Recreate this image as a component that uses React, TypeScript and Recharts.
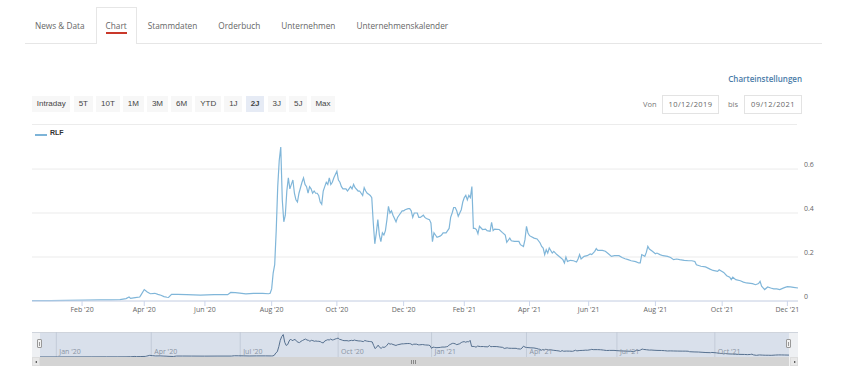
import React from 'react'
import { LineChart, Line, XAxis, YAxis, CartesianGrid, ReferenceLine } from 'recharts'

// trading-day index (ordinal axis, 10/12/2019 .. 09/12/2021) and close price
const tradingDay = [
  0, 12, 23, 35, 45, 52, 58, 61, 62, 64, 65, 68, 71, 72, 74, 76, 78, 81, 83, 85, 87, 89, 90, 92, 96, 102, 111, 120, 129, 131,
  134, 137, 141, 146, 152, 156, 157, 158, 159, 160, 161, 162, 163, 164, 165, 166, 167, 168, 169, 170, 171, 172, 173, 174, 175,
  176, 177, 178, 179, 180, 181, 182, 183, 184, 185, 186, 187, 188, 189, 190, 191, 192, 193, 194, 195, 196, 197, 198, 199, 200,
  201, 202, 203, 204, 205, 207, 208, 209, 210, 211, 212, 213, 215, 216, 217, 218, 219, 220, 221, 222, 223, 224, 225, 226, 227,
  228, 229, 230, 231, 232, 233, 234, 235, 236, 237, 238, 240, 241, 242, 244, 245, 246, 248, 249, 250, 251, 252, 254, 255, 256,
  258, 259, 260, 262, 263, 264, 265, 266, 267, 269, 270, 271, 273, 274, 275, 276, 277, 278, 279, 280, 281, 283, 284, 285, 286,
  287, 288, 289, 290, 291, 292, 293, 294, 295, 297, 299, 300, 302, 303, 304, 305, 308, 310, 312, 313, 315, 316, 318, 321, 322,
  324, 325, 326, 327, 328, 331, 333, 335, 336, 337, 338, 339, 340, 341, 343, 344, 346, 348, 350, 351, 352, 353, 355, 357, 359,
  360, 361, 362, 364, 366, 368, 369, 371, 372, 373, 376, 378, 380, 382, 384, 387, 389, 391, 393, 395, 398, 400, 401, 402, 404,
  405, 406, 407, 409, 411, 412, 414, 416, 419, 421, 423, 425, 427, 430, 433, 435, 437, 438, 441, 444, 447, 449, 452, 453, 456,
  458, 460, 461, 462, 464, 467, 469, 471, 475, 477, 479, 480, 481, 483, 485, 487, 489, 491, 493, 496, 498, 500, 502, 505,
]
const price = [
  0.002, 0.002, 0.003, 0.004, 0.005, 0.005, 0.006, 0.010, 0.011, 0.018, 0.012, 0.015, 0.018, 0.029, 0.052, 0.041, 0.033, 0.035, 0.030, 0.026, 0.020, 0.017, 0.016, 0.030, 0.030, 0.029, 0.027, 0.029, 0.029, 0.039,
  0.038, 0.036, 0.032, 0.035, 0.035, 0.033, 0.035, 0.055, 0.127, 0.165, 0.32, 0.52, 0.64, 0.70, 0.46, 0.36, 0.39, 0.50, 0.56, 0.51, 0.53, 0.55, 0.49, 0.46, 0.45,
  0.49, 0.515, 0.54, 0.56, 0.53, 0.52, 0.49, 0.52, 0.51, 0.49, 0.50, 0.49, 0.49, 0.48, 0.45, 0.44, 0.50, 0.52, 0.54, 0.53, 0.56, 0.53, 0.54, 0.56, 0.575,
  0.59, 0.55, 0.54, 0.52, 0.51, 0.51, 0.50, 0.51, 0.52, 0.51, 0.53, 0.515, 0.50, 0.50, 0.49, 0.48, 0.515, 0.50, 0.49, 0.485, 0.48, 0.47, 0.355, 0.26, 0.31,
  0.37, 0.30, 0.27, 0.31, 0.30, 0.32, 0.37, 0.43, 0.40, 0.41, 0.39, 0.36, 0.38, 0.39, 0.41, 0.41, 0.415, 0.42, 0.42, 0.41, 0.38, 0.40, 0.40, 0.38, 0.38,
  0.39, 0.38, 0.375, 0.37, 0.355, 0.27, 0.31, 0.30, 0.29, 0.295, 0.30, 0.31, 0.31, 0.32, 0.33, 0.38, 0.40, 0.425, 0.425, 0.41, 0.385, 0.415, 0.45, 0.47, 0.48,
  0.46, 0.48, 0.47, 0.52, 0.33, 0.33, 0.325, 0.306, 0.34, 0.325, 0.327, 0.32, 0.317, 0.358, 0.32, 0.327, 0.325, 0.312, 0.30, 0.267, 0.286, 0.274, 0.271, 0.271, 0.256,
  0.248, 0.279, 0.339, 0.309, 0.297, 0.286, 0.282, 0.264, 0.248, 0.241, 0.211, 0.233, 0.218, 0.241, 0.218, 0.226, 0.211, 0.20, 0.188, 0.173, 0.20, 0.18, 0.185, 0.183, 0.177,
  0.191, 0.211, 0.191, 0.203, 0.206, 0.214, 0.211, 0.226, 0.238, 0.23, 0.23, 0.226, 0.215, 0.203, 0.206, 0.206, 0.198, 0.192, 0.188, 0.183, 0.179, 0.173, 0.173, 0.211, 0.203,
  0.221, 0.248, 0.236, 0.226, 0.215, 0.218, 0.211, 0.206, 0.203, 0.198, 0.188, 0.191, 0.188, 0.185, 0.183, 0.183, 0.18, 0.165, 0.158, 0.155, 0.145, 0.139, 0.135, 0.142, 0.13,
  0.115, 0.108, 0.097, 0.108, 0.097, 0.092, 0.086, 0.082, 0.079, 0.074, 0.079, 0.089, 0.067, 0.052, 0.064, 0.059, 0.055, 0.055, 0.052, 0.061, 0.065, 0.064, 0.062, 0.059,
]

const tickDays = [33, 74, 114, 158, 201, 245, 285, 328, 367, 411, 455, 498]
const tickLabels = ["Feb '20", "Apr '20", "Jun '20", "Aug '20", "Oct '20", "Dec '20", "Feb '21", "Apr '21", "Jun '21", "Aug '21", "Oct '21", "Dec '21"]
const navDays = [11, 75, 135, 201, 264, 328, 389, 455]
const navLabels = ["Jan '20", "Apr '20", "Jul '20", "Oct '20", "Jan '21", "Apr '21", "Jul '21", "Oct '21"]
const yTicks = [0, 0.2, 0.4, 0.6]

const tabs = ['News & Data', 'Chart', 'Stammdaten', 'Orderbuch', 'Unternehmen', 'Unternehmenskalender']
const ranges = ['Intraday', '5T', '10T', '1M', '3M', '6M', 'YTD', '1J', '2J', '3J', '5J', 'Max']

const data = tradingDay.map((d, i) => ({ day: d, price: price[i] }))
const font = '"Open Sans", sans-serif'

const YTick = ({ x, y, payload }: any) => (
  <text x={x} y={y - 4} dy="0.35em" fontSize={7} fill="#666" fontFamily={font}>{payload.value}</text>
)

const Handle = ({ left }: { left: number }) => (
  <div style={{ position: 'absolute', left, top: 339, width: 5, height: 9, background: '#f2f2f2', border: '1px solid #999', borderRadius: 1, boxSizing: 'border-box' }}>
    <div style={{ position: 'absolute', left: 1, top: 2, width: 1, height: 4, background: '#999' }} />
    <div style={{ position: 'absolute', left: 2.5, top: 2, width: 1, height: 4, background: '#999' }} />
  </div>
)

export default function App() {
  return (
    <div style={{ position: 'relative', width: 860, height: 382, background: '#fff', overflow: 'hidden', fontFamily: font }}>
      <style>{'body{margin:0}'}</style>

      {/* tabs */}
      <div style={{ position: 'absolute', left: 25, top: 43, width: 797, height: 1, background: '#e6e6e6' }} />
      <div style={{ position: 'absolute', left: 96, top: 7, width: 41, height: 37, background: '#fff', border: '1px solid #e6e6e6', borderBottom: 'none', boxSizing: 'border-box' }} />
      <div style={{ position: 'absolute', left: 35, top: 19, display: 'flex', gap: 21, fontSize: 8.25, color: '#666', lineHeight: '14px' }}>
        {tabs.map(t => (
          <span key={t} style={{ position: 'relative' }}>
            {t}
            {t === 'Chart' && <span style={{ position: 'absolute', left: 0, right: 0, top: 13, height: 2, background: '#c9382a' }} />}
          </span>
        ))}
      </div>

      {/* settings */}
      <div style={{ position: 'absolute', right: 58, top: 73, fontSize: 8, fontWeight: 600, color: '#4a7ba8' }}>Charteinstellungen</div>
      <div style={{ position: 'absolute', left: 0, top: 95, width: 860, height: 19 }}>
        <span style={{ position: 'absolute', left: 643, top: 4, fontSize: 7.5, color: '#777' }}>Von</span>
        <div style={{ position: 'absolute', left: 662, top: 0, width: 57, height: 19, border: '1px solid #e3e3e3', boxSizing: 'border-box', fontSize: 7.5, color: '#666', textAlign: 'center', lineHeight: '17px', letterSpacing: 0.4 }}>10/12/2019</div>
        <span style={{ position: 'absolute', left: 728, top: 4, fontSize: 7.5, color: '#777' }}>bis</span>
        <div style={{ position: 'absolute', left: 744, top: 0, width: 58, height: 19, border: '1px solid #e3e3e3', boxSizing: 'border-box', fontSize: 7.5, color: '#666', textAlign: 'center', lineHeight: '17px', letterSpacing: 0.4 }}>09/12/2021</div>
      </div>

      {/* range selector */}
      <div style={{ position: 'absolute', left: 32, top: 96, display: 'flex', gap: 3.5, fontFamily: '"Liberation Sans", Arial, sans-serif', fontSize: 8, color: '#444' }}>
        {ranges.map(r => (
          <div key={r} style={{ height: 16, lineHeight: '16px', padding: '0 4.75px', background: r === '2J' ? '#e6ebf5' : '#f7f7f7', fontWeight: r === '2J' ? 700 : 400 }}>{r}</div>
        ))}
      </div>
      <div style={{ position: 'absolute', left: 32, top: 124, width: 765, height: 1, background: '#ececec' }} />

      {/* legend */}
      <div style={{ position: 'absolute', left: 35, top: 134, width: 12, height: 1.5, background: '#7db4d8' }} />
      <div style={{ position: 'absolute', left: 50, top: 129, fontFamily: '"Liberation Sans", Arial, sans-serif', fontSize: 7, fontWeight: 700, color: '#333' }}>RLF</div>

      {/* main chart */}
      <div style={{ position: 'absolute', left: 0, top: 130 }}>
        <LineChart width={860} height={195} data={data} margin={{ top: 10, right: 0, bottom: 0, left: 32 }}>
          <CartesianGrid vertical={false} horizontalValues={yTicks} stroke="#ebebeb" />
          <XAxis
            type="number"
            dataKey="day"
            domain={[0, 505]}
            ticks={tickDays}
            interval={0}
            tickFormatter={(v: number) => tickLabels[tickDays.indexOf(v)]}
            height={24}
            tickSize={5}
            tickMargin={1}
            axisLine={{ stroke: '#ccd6eb' }}
            tickLine={{ stroke: '#ccd6eb' }}
            tick={{ fontSize: 7, fill: '#666', fontFamily: font }}
          />
          <YAxis
            orientation="right"
            width={62}
            domain={[0, 0.732]}
            ticks={yTicks}
            interval={0}
            axisLine={false}
            tickLine={false}
            tickSize={0}
            tickMargin={6}
            tick={<YTick />}
          />
          <Line type="linear" dataKey="price" stroke="#80b6d9" strokeWidth={1.2} dot={false} isAnimationActive={false} />
        </LineChart>
      </div>

      {/* navigator */}
      <div style={{ position: 'absolute', left: 32, top: 332, width: 766, height: 25, background: '#eef0f3', borderTop: '1px solid #cfd4dc', boxSizing: 'border-box' }} />
      <div style={{ position: 'absolute', left: 40, top: 333, width: 749, height: 24, background: '#d9e0eb' }} />
      <div style={{ position: 'absolute', left: 40, top: 332 }}>
        <LineChart width={749} height={25} data={data} margin={{ top: 0, right: 0, bottom: 0, left: 0 }}>
          <XAxis hide type="number" dataKey="day" domain={[0, 505]} />
          <YAxis hide domain={[0, 0.78]} />
          {navDays.map((d, i) => (
            <ReferenceLine
              key={d}
              x={d}
              stroke="#c3cbd8"
              label={{ value: navLabels[i], position: 'insideBottomLeft', offset: 3, fontSize: 7, fill: '#8a94a3', fontFamily: font }}
            />
          ))}
          <Line type="linear" dataKey="price" stroke="#56708f" strokeWidth={1} dot={false} isAnimationActive={false} />
        </LineChart>
      </div>
      <Handle left={37} />
      <Handle left={786} />

      {/* scrollbar */}
      <div style={{ position: 'absolute', left: 32, top: 357, width: 766, height: 9, background: '#f2f2f2' }} />
      <div style={{ position: 'absolute', left: 40, top: 357, width: 749, height: 9, background: '#d4d4d4' }} />
      <div style={{ position: 'absolute', left: 32, top: 357, width: 8, height: 9, background: '#e8e8e8', border: '1px solid #ddd', boxSizing: 'border-box' }}>
        <div style={{ position: 'absolute', left: 2, top: 2.5, width: 0, height: 0, borderTop: '1.5px solid transparent', borderBottom: '1.5px solid transparent', borderRight: '2px solid #333' }} />
      </div>
      <div style={{ position: 'absolute', left: 790, top: 357, width: 8, height: 9, background: '#e8e8e8', border: '1px solid #ddd', boxSizing: 'border-box' }}>
        <div style={{ position: 'absolute', left: 3, top: 2.5, width: 0, height: 0, borderTop: '1.5px solid transparent', borderBottom: '1.5px solid transparent', borderLeft: '2px solid #333' }} />
      </div>
      {[0, 2, 4].map(o => (
        <div key={o} style={{ position: 'absolute', left: 411 + o, top: 359.5, width: 1, height: 4, background: '#888' }} />
      ))}
    </div>
  )
}
